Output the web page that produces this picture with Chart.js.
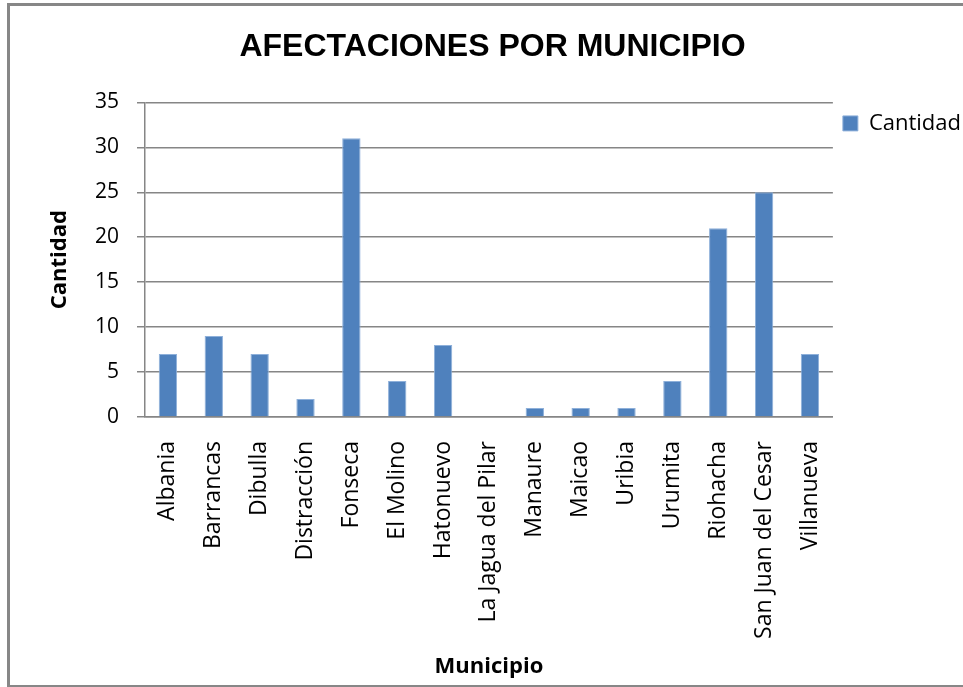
<!DOCTYPE html>
<html>
<head>
<meta charset="utf-8">
<script src="https://cdn.jsdelivr.net/npm/chart.js@4.4.1/dist/chart.umd.min.js"></script>
<style>
  body { margin: 0; background: #fff; overflow: hidden; }
  #frame { position: absolute; left: 7px; top: 3px; width: 990px; height: 679px; border: 3px solid #878787; }
  #myChart { position: absolute; left: 0; top: 0; }
</style>
</head>
<body>
<div id="frame"></div>
<canvas id="myChart" width="963" height="687"></canvas>
<script>
const municipios = ['Albania', 'Barrancas', 'Dibulla', 'Distracción', 'Fonseca', 'El Molino', 'Hatonuevo',
  'La Jagua del Pilar', 'Manaure', 'Maicao', 'Uribia', 'Urumita', 'Riohacha', 'San Juan del Cesar', 'Villanueva'];
const cantidad = [7, 9, 7, 2, 31, 4, 8, 0, 1, 1, 1, 4, 21, 25, 7];
const yTicks = [0, 5, 10, 15, 20, 25, 30, 35];

const sans = '"Open Sans", "Noto Sans", sans-serif';
const gridGray = '#868686';

window.addEventListener('load', function () {
  const ctx = document.getElementById('myChart');
  const myChart = new Chart(ctx, {
    type: 'bar',
    data: {
      labels: municipios,
      datasets: [{
        label: 'Cantidad',
        data: cantidad,
        backgroundColor: '#4F81BD',
        borderColor: '#8eb0da',
        borderWidth: 1,
        barPercentage: 0.4,
        categoryPercentage: 1
      }]
    },
    options: {
      responsive: false,
      animation: false,
      layout: { padding: { left: 14, right: -8, top: 0, bottom: 0 } },
      plugins: {
        title: {
          display: true,
          text: 'AFECTACIONES POR MUNICIPIO',
          color: '#000',
          font: { family: '"Liberation Sans", Arial, sans-serif', size: 32, weight: 'bold' },
          padding: { top: 28, bottom: 36 }
        },
        legend: {
          position: 'right',
          align: 'start',
          fullSize: false,
          labels: {
            boxWidth: 15,
            boxHeight: 15,
            padding: 10,
            color: '#000',
            font: { family: sans, size: 22 }
          }
        },
        tooltip: { enabled: false }
      },
      scales: {
        x: {
          grid: { display: false, drawTicks: false },
          border: { display: true, color: gridGray, width: 1.5 },
          ticks: {
            color: '#000',
            font: { family: sans, size: 23 },
            minRotation: 90,
            maxRotation: 90,
            autoSkip: false,
            padding: 24
          },
          title: {
            display: true,
            text: 'Municipio',
            color: '#000',
            font: { family: sans, size: 22, weight: 'bold' },
            padding: { top: 4, bottom: 7 }
          },
          afterFit: (scale) => { scale.height = 687 - 417; }
        },
        y: {
          min: 0,
          max: 35,
          afterBuildTicks: (scale) => { scale.ticks = yTicks.map(v => ({ value: v })); },
          grid: { color: gridGray, lineWidth: 1.5, tickLength: 8 },
          border: { display: true, color: gridGray, width: 1.5 },
          ticks: {
            color: '#000',
            font: { family: sans, size: 21 },
            padding: 18
          },
          title: {
            display: true,
            text: 'Cantidad',
            color: '#000',
            font: { family: sans, size: 22, weight: 'bold' },
            padding: { top: 33, bottom: 4 }
          },
          afterFit: (scale) => { scale.width = 145 - 14; }
        }
      }
    }
  });
});
</script>
</body>
</html>
